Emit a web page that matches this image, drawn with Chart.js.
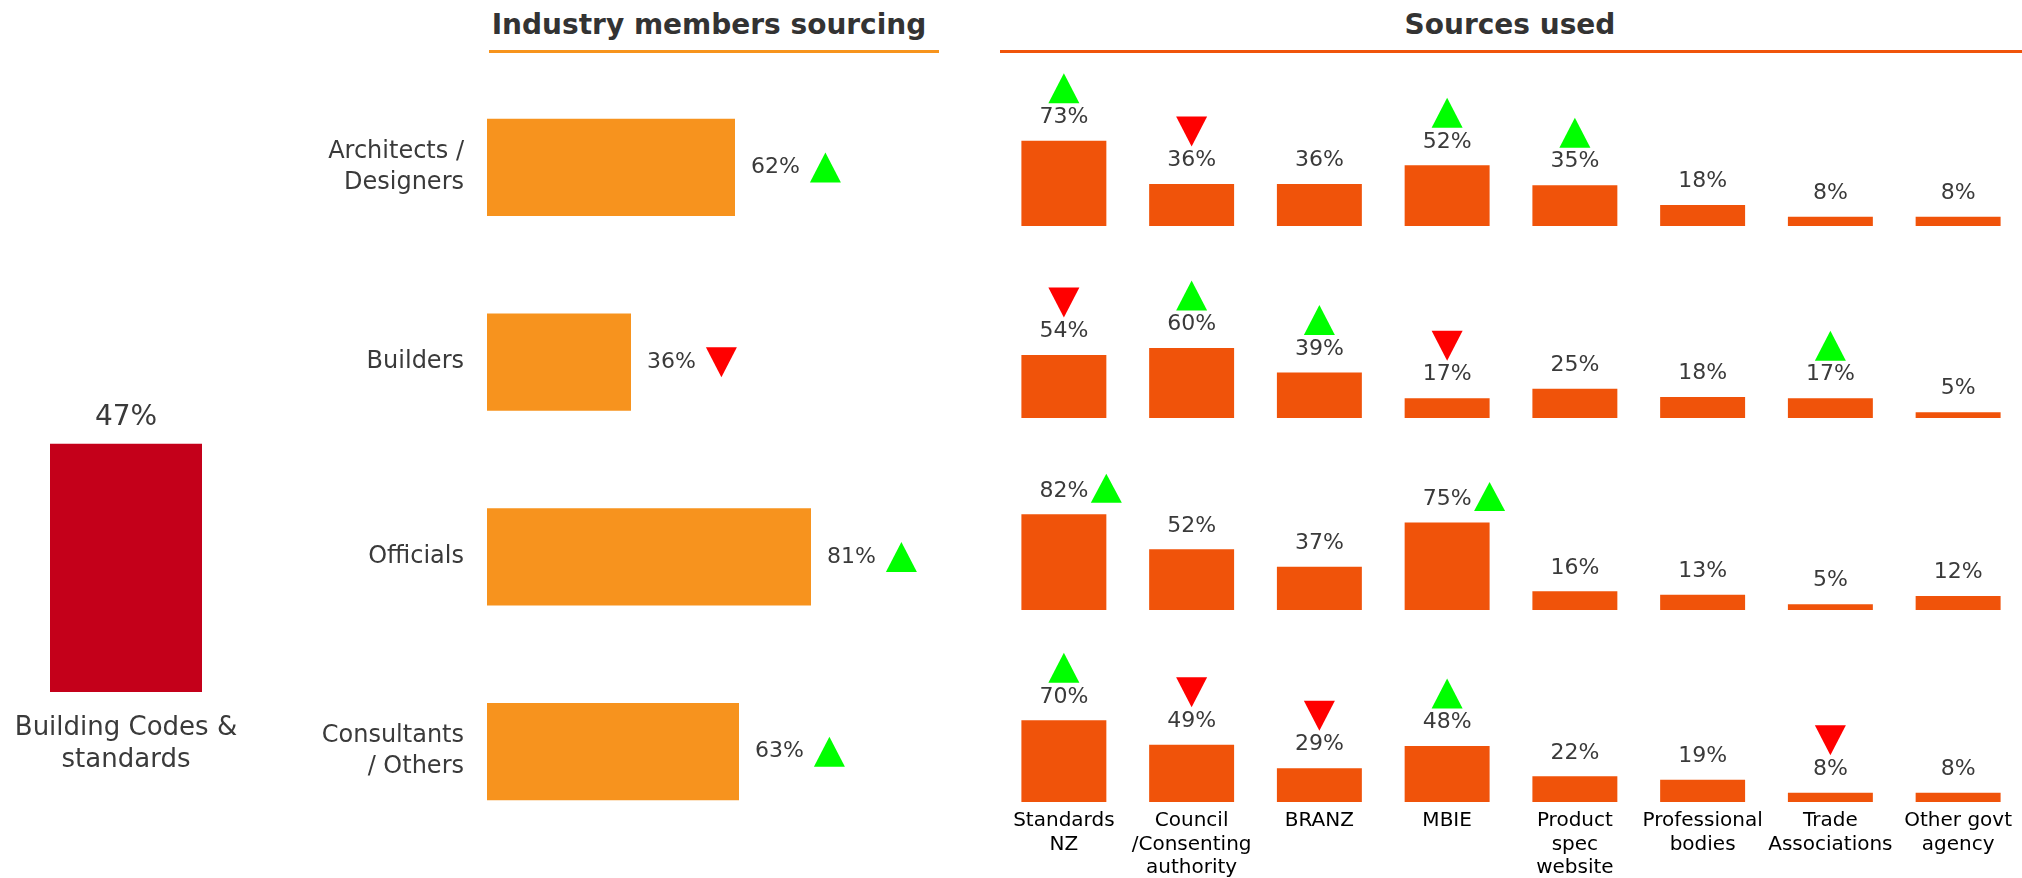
<!DOCTYPE html>
<html>
<head>
<meta charset="utf-8">
<script src="https://cdn.jsdelivr.net/npm/chart.js@4.4.1/dist/chart.umd.min.js"></script>
<style>
  html, body { margin: 0; padding: 0; background: #fff; width: 2022px; height: 878px; overflow: hidden; }
  body { position: relative; font-family: "DejaVu Sans", Verdana, sans-serif; }
  canvas { position: absolute; }
  .title { position: absolute; font-weight: bold; font-size: 28px; line-height: 28px; color: #333333; text-align: center; white-space: nowrap; }
  .rule { position: absolute; height: 3px; }
</style>
</head>
<body>
<div class="title" style="left:489px; top:11px; width:440px;">Industry members sourcing</div>
<div class="rule" style="left:489px; top:50px; width:450px; background:#F7941D;"></div>
<div class="title" style="left:1310px; top:11px; width:400px;">Sources used</div>
<div class="rule" style="left:1000px; top:50px; width:1022px; background:#F0540A;"></div>

<canvas id="overall" width="252" height="650" style="left:0px; top:150px;"></canvas>
<canvas id="sourcing" width="720" height="800" style="left:240px; top:60px;"></canvas>
<canvas id="row0" width="1022" height="170" style="left:1000px; top:56px;"></canvas>
<canvas id="row1" width="1022" height="170" style="left:1000px; top:248px;"></canvas>
<canvas id="row2" width="1022" height="170" style="left:1000px; top:440px;"></canvas>
<canvas id="row3" width="1022" height="246" style="left:1000px; top:632px;"></canvas>

<script>
// ---------- DATA ----------
const overallCategory = [["Building Codes &", "standards"]];
const overallValue = [47];

const memberGroups = [["Architects /", "Designers"], ["Builders"], ["Officials"], ["Consultants", "/ Others"]];
const memberSourcing = [62, 36, 81, 63];
const memberTrend = ["up", "down", "up", "up"];

const sourceLabels = [["Standards", "NZ"], ["Council", "/Consenting", "authority"], ["BRANZ"], ["MBIE"],
                      ["Product", "spec", "website"], ["Professional", "bodies"], ["Trade", "Associations"], ["Other govt", "agency"]];

const architectsSources = [73, 36, 36, 52, 35, 18, 8, 8];
const architectsTrend   = ["up", "down", "", "up", "up", "", "", ""];
const buildersSources   = [54, 60, 39, 17, 25, 18, 17, 5];
const buildersTrend     = ["down", "up", "up", "down", "", "", "up", ""];
const officialsSources  = [82, 52, 37, 75, 16, 13, 5, 12];
const officialsTrend    = ["up", "", "", "up", "", "", "", ""];
const consultantsSources = [70, 49, 29, 48, 22, 19, 8, 8];
const consultantsTrend   = ["up", "down", "down", "up", "", "", "down", ""];

// ---------- STYLE ----------
const FONT = '"DejaVu Sans", Verdana, sans-serif';
const GREEN = "#00FF00", RED = "#FF0000";
const VALUE_COLOR = "#3a3a3a";

function drawTri(ctx, cx, top, w, h, dir) {
  ctx.save();
  ctx.fillStyle = dir === "up" ? GREEN : RED;
  ctx.beginPath();
  if (dir === "up") {
    ctx.moveTo(cx, top); ctx.lineTo(cx + w / 2, top + h); ctx.lineTo(cx - w / 2, top + h);
  } else {
    ctx.moveTo(cx - w / 2, top); ctx.lineTo(cx + w / 2, top); ctx.lineTo(cx, top + h);
  }
  ctx.closePath(); ctx.fill(); ctx.restore();
}

Chart.defaults.font.family = FONT;
Chart.defaults.animation = false;
Chart.defaults.plugins.legend.display = false;
Chart.defaults.plugins.tooltip.enabled = false;

// ---------- overall red bar ----------
new Chart(document.getElementById("overall"), {
  type: "bar",
  data: { labels: overallCategory, datasets: [{ data: overallValue, backgroundColor: "#C4001A",
          barPercentage: 152 / 252, categoryPercentage: 1 }] },
  options: {
    responsive: false, devicePixelRatio: 1,
    layout: { padding: { top: 14, left: 0, right: 0, bottom: 0 } },
    scales: {
      y: { display: false, min: 0, max: 100 },
      x: { grid: { display: false, drawTicks: false }, border: { display: false },
           ticks: { color: "#3a3a3a", font: { size: 26, lineHeight: 1.23 }, padding: 20, maxRotation: 0 },
           afterFit: s => { s.height = 108; s.paddingLeft = 0; s.paddingRight = 0; } }
    }
  },
  plugins: [{
    id: "lbl",
    afterDatasetsDraw(chart) {
      const ctx = chart.ctx;
      chart.getDatasetMeta(0).data.forEach((el, i) => {
        ctx.save();
        ctx.font = "28px " + FONT; ctx.fillStyle = VALUE_COLOR;
        ctx.textAlign = "center"; ctx.textBaseline = "middle";
        ctx.fillText(overallValue[i] + "%", el.x, el.y - 26);
        ctx.restore();
      });
    }
  }]
});

// ---------- industry members sourcing ----------
new Chart(document.getElementById("sourcing"), {
  type: "bar",
  data: { labels: memberGroups, datasets: [{ data: memberSourcing, backgroundColor: "#F7931E",
          barPercentage: 0.5, categoryPercentage: 1 }] },
  options: {
    indexAxis: "y", responsive: false, devicePixelRatio: 1,
    layout: { padding: { top: 10, bottom: 11, left: 0, right: 73 } },
    scales: {
      x: { display: false, min: 0, max: 100 },
      y: { grid: { display: false, drawTicks: false }, border: { display: false },
           ticks: { color: "#3a3a3a", font: { size: 24, lineHeight: 1.29 }, padding: 23 },
           afterFit: s => { s.width = 247; s.paddingTop = 0; s.paddingBottom = 0; } }
    }
  },
  plugins: [{
    id: "lbl",
    afterDatasetsDraw(chart) {
      const ctx = chart.ctx;
      chart.getDatasetMeta(0).data.forEach((el, i) => {
        ctx.save();
        ctx.font = "22px " + FONT; ctx.fillStyle = VALUE_COLOR;
        ctx.textAlign = "left"; ctx.textBaseline = "middle";
        const t = memberSourcing[i] + "%";
        const x0 = el.x + 16;
        ctx.fillText(t, x0, el.y);
        const w = ctx.measureText(t).width;
        ctx.restore();
        if (memberTrend[i]) drawTri(ctx, x0 + w + 10 + 15.5, el.y - 15, 31, 30, memberTrend[i]);
      });
    }
  }]
});

// ---------- sources used rows ----------
function makeRow(id, values, trends, placement, showLabels) {
  const xScale = showLabels
    ? { grid: { display: false, drawTicks: false }, border: { display: false },
        ticks: { color: "#000000", font: { size: 20, lineHeight: 1.18 }, padding: 7,
                 maxRotation: 0, minRotation: 0, autoSkip: false },
        afterFit: s => { s.height = 76; s.paddingLeft = 0; s.paddingRight = 0; } }
    : { display: false };
  new Chart(document.getElementById(id), {
    type: "bar",
    data: { labels: sourceLabels, datasets: [{ data: values, backgroundColor: "#F0530A",
            barPercentage: 0.665, categoryPercentage: 1 }] },
    options: {
      responsive: false, devicePixelRatio: 1,
      layout: { padding: { top: 30, left: 0, right: 0, bottom: 0 } },
      scales: { y: { display: false, min: 0, max: 120 }, x: xScale }
    },
    plugins: [{
      id: "lbl",
      afterDatasetsDraw(chart) {
        const ctx = chart.ctx;
        chart.getDatasetMeta(0).data.forEach((el, i) => {
          const t = values[i] + "%";
          const cy = el.y - 23.5;
          ctx.save();
          ctx.font = "22px " + FONT; ctx.fillStyle = VALUE_COLOR;
          ctx.textAlign = "center"; ctx.textBaseline = "middle";
          ctx.fillText(t, el.x, cy);
          const w = ctx.measureText(t).width;
          ctx.restore();
          const d = trends[i];
          if (!d) return;
          if (placement === "right") {
            drawTri(ctx, el.x + w / 2 + 3 + 15, cy - 17, 31, 29, d);
          } else {
            drawTri(ctx, el.x, cy - 44, 31, 30, d);
          }
        });
      }
    }]
  });
}

makeRow("row0", architectsSources, architectsTrend, "above", false);
makeRow("row1", buildersSources, buildersTrend, "above", false);
makeRow("row2", officialsSources, officialsTrend, "right", false);
makeRow("row3", consultantsSources, consultantsTrend, "above", true);
</script>
</body>
</html>
